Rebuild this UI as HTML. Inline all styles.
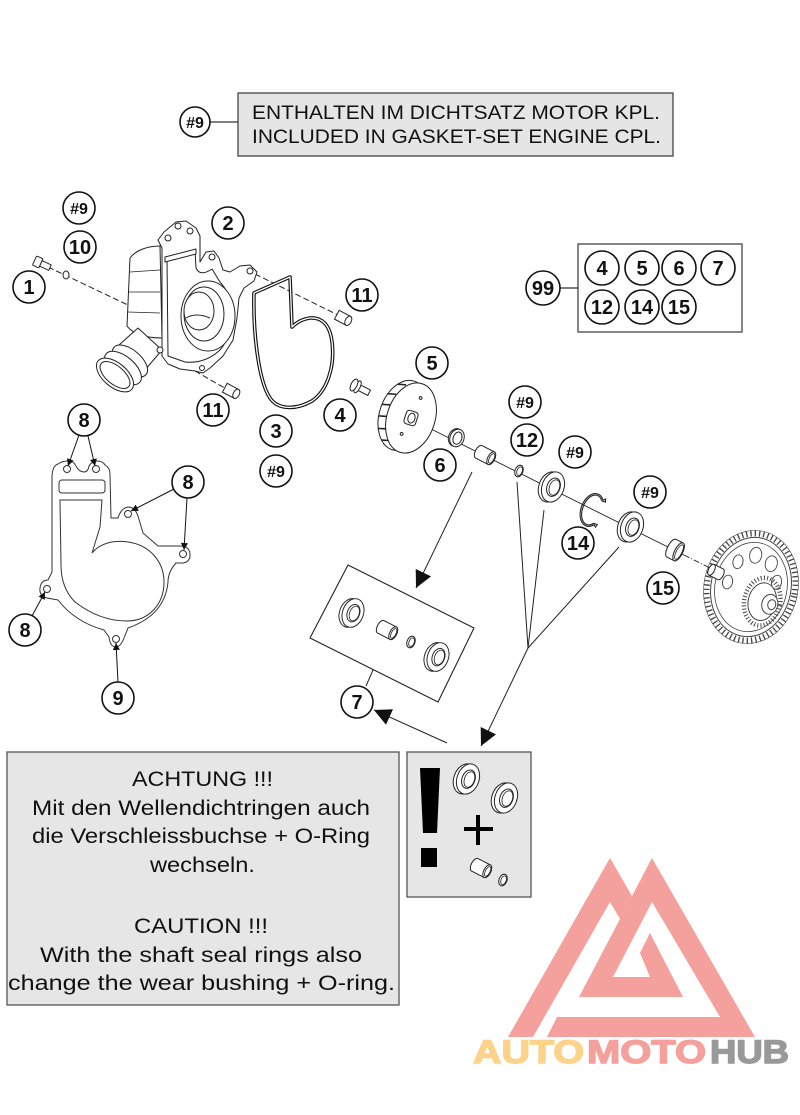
<!DOCTYPE html>
<html><head><meta charset="utf-8"><style>
html,body{margin:0;padding:0;background:#fff;}
svg{display:block}
</style></head><body>
<svg width="800" height="1115" viewBox="0 0 800 1115" xmlns="http://www.w3.org/2000/svg">
<defs>
<marker id="sa" viewBox="0 0 10 10" refX="10" refY="5" markerWidth="8" markerHeight="7" markerUnits="userSpaceOnUse" orient="auto"><path d="M0,0L10,5L0,10z" fill="#111"/></marker>
<marker id="ba" viewBox="0 0 10 10" refX="10" refY="5" markerWidth="24" markerHeight="17" markerUnits="userSpaceOnUse" orient="auto"><path d="M0,0L10,5L0,10z" fill="#111"/></marker>
<g id="seal">
<ellipse cx="-3" cy="1" rx="11" ry="15.5" fill="#fff" stroke="#222" stroke-width="1"/>
<ellipse cx="0" cy="0" rx="11" ry="15.5" fill="#fff" stroke="#222" stroke-width="1"/>
<ellipse cx="0.5" cy="0" rx="6.5" ry="9.5" fill="none" stroke="#222" stroke-width="1"/>
<ellipse cx="1.5" cy="0" rx="5" ry="8" fill="none" stroke="#222" stroke-width="0.8"/>
</g>
<g id="bush">
<path d="M-7,-7 L7,-7 A3.5,7 0 0,1 7,7 L-7,7 A3.5,7 0 0,1 -7,-7 Z" fill="#fff" stroke="#222"/>
<ellipse cx="7" cy="0" rx="3.5" ry="7" fill="#fff" stroke="#222"/>
<ellipse cx="7.5" cy="0" rx="2.3" ry="5.3" fill="none" stroke="#222" stroke-width=".8"/>
</g>
<g id="oring">
<ellipse rx="4" ry="6" fill="#fff" stroke="#222" stroke-width="1"/>
<ellipse cx=".6" rx="2.6" ry="4.5" fill="none" stroke="#222" stroke-width=".8"/>
</g>
</defs>

<!-- Header -->
<line x1="210" y1="122" x2="238" y2="122" stroke="#333" stroke-width="1.2"/>
<rect x="238" y="93" width="435" height="63" fill="#e5e5e5" stroke="#444" stroke-width="1.3"/>
<g font-family="Liberation Sans, sans-serif" font-size="19" fill="#111">
<text x="252" y="119" textLength="408" lengthAdjust="spacingAndGlyphs">ENTHALTEN IM DICHTSATZ MOTOR KPL.</text>
<text x="252" y="143" textLength="409" lengthAdjust="spacingAndGlyphs">INCLUDED IN GASKET-SET ENGINE CPL.</text>
</g>

<!-- 99 box -->
<line x1="560" y1="288" x2="578" y2="288" stroke="#333" stroke-width="1.2"/>
<rect x="578" y="244" width="164" height="88" fill="#fff" stroke="#444" stroke-width="1.3"/>

<!-- dashed lines housing -->
<g stroke="#222" stroke-width="1" fill="none">
<line x1="48" y1="267" x2="130" y2="306" stroke-dasharray="6 3"/>
<line x1="255" y1="274" x2="340" y2="316" stroke-dasharray="6 3"/>
<line x1="195" y1="371" x2="228" y2="390" stroke-dasharray="6 3"/>
</g>

<!-- screw 1 and washer 10 -->
<g transform="translate(40,263) rotate(25)" fill="#fff" stroke="#222" stroke-width="1">
<rect x="-6" y="-5" width="7" height="10" rx="1"/>
<rect x="1" y="-3" width="10" height="6"/>
</g>
<ellipse cx="66" cy="275" rx="3" ry="4" fill="#fff" stroke="#222"/>

<!-- Pump housing -->
<g fill="#fff" stroke="#222" stroke-width="1" stroke-linejoin="round">
<path d="M160,246 C148,246 136,250 130,258 L127,326 C133,334 146,338 162,338 Z"/>
<line x1="130" y1="272" x2="160" y2="270" stroke-width=".7"/>
<line x1="128" y1="292" x2="160" y2="292" stroke-width=".7"/>
<line x1="128" y1="312" x2="160" y2="313" stroke-width=".7"/>
<path d="M138,328 L100,362 L128,390 L162,350 Z"/>
<ellipse cx="130" cy="361" rx="21" ry="11" transform="rotate(40 130 361)"/>
<ellipse cx="123" cy="368" rx="22" ry="11.5" transform="rotate(40 123 368)"/>
<ellipse cx="115" cy="375" rx="22" ry="12" transform="rotate(40 115 375)"/>
<ellipse cx="115" cy="375" rx="18" ry="9" transform="rotate(40 115 375)"/>
<path d="M162,248 L158,240 L164,232 L176,222 L186,221 L196,228 L200,236 L200,262 L206,252 L214,251 L219,258 L223,270 L230,272 L240,266 L250,265 L257,272 L254,281 L244,288 L239,298 L237,318 L233,340 L223,356 L210,368 L203,373 L195,371 L180,369 L168,364 L162,356 Z"/>
<path d="M167,258 L195,250 L196,268 Q200,277 212,269 L220,282 Q229,292 232,306 Q233,335 220,350 Q205,364 185,362 L168,356 Z" fill="none"/>
<path d="M165,257 L196,249 L196,254 L165,262 Z"/>
<ellipse cx="208" cy="316" rx="27" ry="35"/>
<ellipse cx="204" cy="314" rx="20" ry="27"/>
<ellipse cx="199" cy="311" rx="15" ry="19"/>
<path d="M186,318 Q196,312 210,318" fill="none"/>
<circle cx="178" cy="226" r="3"/>
<circle cx="190" cy="231" r="3"/>
<circle cx="168" cy="238" r="3"/>
<circle cx="212" cy="257" r="3"/>
<circle cx="250" cy="271" r="3"/>
<circle cx="202" cy="368" r="2.5"/>
<circle cx="160" cy="350" r="3"/>
</g>

<!-- pins 11 -->
<g transform="translate(343,318) rotate(28)" fill="#fff" stroke="#222">
<rect x="-7" y="-5" width="13" height="10"/>
<ellipse cx="6" cy="0" rx="3" ry="5"/>
</g>
<g transform="translate(231,391) rotate(28)" fill="#fff" stroke="#222">
<rect x="-7" y="-5" width="13" height="10"/>
<ellipse cx="6" cy="0" rx="3" ry="5"/>
</g>

<!-- O-ring 3 -->
<path d="M290,277 L254,293 C253,330 258,380 270,398 C278,410 296,410 312,401 C328,390 335,365 332,342 C330,325 322,317 310,318 C302,319 296,323 292,327 L290,277 Z" fill="none" stroke="#111" stroke-width="3.6" stroke-linejoin="round"/>
<path d="M290,277 L254,293 C253,330 258,380 270,398 C278,410 296,410 312,401 C328,390 335,365 332,342 C330,325 322,317 310,318 C302,319 296,323 292,327 L290,277 Z" fill="none" stroke="#fff" stroke-width="1.3" stroke-linejoin="round"/>

<!-- bolt 4 -->
<g transform="translate(354,385) rotate(27)" fill="#fff" stroke="#222">
<rect x="4" y="-3" width="13" height="6"/>
<ellipse cx="4" cy="0" rx="2.5" ry="6.5"/>
<ellipse cx="0" cy="0" rx="3" ry="6.5"/>
</g>

<!-- main shaft axis -->
<line x1="413" y1="420" x2="684" y2="555" stroke="#222" stroke-width="0.9"/>
<line x1="684" y1="555" x2="714" y2="570" stroke="#222" stroke-width="0.9" stroke-dasharray="6 2 1 2"/>

<!-- impeller 5 -->
<g transform="translate(411,418) rotate(18)" stroke="#222">
<ellipse cx="-8" cy="0" rx="24" ry="36" fill="#fff"/>
<g stroke-width="1.6">
<line x1="-23" y1="-28" x2="-15" y2="-30"/>
<line x1="-29.5" y1="-16" x2="-21.5" y2="-18"/>
<line x1="-32" y1="-4" x2="-24" y2="-6"/>
<line x1="-31.5" y1="8" x2="-23.5" y2="6"/>
<line x1="-28" y1="20" x2="-20" y2="18"/>
<line x1="-21" y1="30" x2="-13" y2="28"/>
</g>
<ellipse cx="0" cy="0" rx="24" ry="36" fill="#fff"/>
<rect x="-6" y="-7" width="12" height="14" rx="3" fill="#fff"/>
<ellipse cx="0.5" cy="0" rx="3.5" ry="5" fill="#fff"/>
<circle cx="3" cy="-22" r="1.4" fill="none"/>
<circle cx="-4" cy="18" r="1.4" fill="none"/>
</g>

<!-- washer 6 -->
<g transform="translate(457,438) rotate(20)" stroke="#222">
<ellipse cx="-1.5" cy="0" rx="7" ry="9" fill="#fff"/>
<ellipse cx="0" cy="0" rx="7" ry="9" fill="#fff"/>
<ellipse cx="0.5" cy="0" rx="4.3" ry="6.3" fill="none"/>
</g>
<use href="#bush" transform="translate(485,455) rotate(27)"/>
<use href="#oring" transform="translate(519,471) rotate(20)"/>
<use href="#seal" transform="translate(553,487) rotate(20)"/>
<!-- circlip 14 -->
<g transform="translate(592,510) rotate(20)" fill="none" stroke="#222" stroke-width="1.1">
<path d="M7.07,-13 A11,17 0 1,0 7.07,13"/>
<path d="M6.1,-11.9 A9.5,15.5 0 1,0 6.1,11.9"/>
<path d="M7.07,-13 L9,-15 L10,-12 L6.1,-11.9"/>
<path d="M7.07,13 L9,15 L10,12 L6.1,11.9"/>
</g>
<use href="#seal" transform="translate(632,527) rotate(20)"/>
<!-- bearing 15 -->
<g transform="translate(675,550) rotate(27)" stroke="#222">
<path d="M-4,-10 L4,-10 A4,10 0 0,1 4,10 L-4,10 A4,10 0 0,1 -4,-10 Z" fill="#fff"/>
<ellipse cx="4" cy="0" rx="4" ry="10" fill="#fff"/>
<ellipse cx="4.5" cy="0" rx="2.8" ry="8" fill="none" stroke-width=".8"/>
</g>

<!-- gear -->
<g transform="translate(751,587) rotate(12)" stroke="#444">
<ellipse rx="44" ry="54" fill="none" stroke-width="6" stroke-dasharray="1.3 3"/>
<ellipse rx="47" ry="57" fill="none" stroke-width=".6"/>
<ellipse rx="40" ry="50" fill="#fff" stroke-width="1"/>
<ellipse rx="36" ry="45" fill="none" stroke-width=".8"/>
<g fill="#fff" stroke-width=".9">
<ellipse cx="-2" cy="-32" rx="6" ry="8"/>
<ellipse cx="15" cy="-27" rx="6" ry="8"/>
<ellipse cx="24" cy="-10" rx="5" ry="7"/>
<ellipse cx="-18" cy="-22" rx="5" ry="7"/>
<ellipse cx="-24" cy="0" rx="5" ry="7"/>
</g>
<ellipse cx="14" cy="12" rx="18" ry="24" fill="none" stroke-width="4.5" stroke-dasharray="1 2.2"/>
<ellipse cx="14" cy="12" rx="14" ry="19" fill="#fff" stroke-width="1"/>
<ellipse cx="22" cy="13" rx="8" ry="10" fill="#fff" stroke-width="1"/>
<ellipse cx="24" cy="13" rx="4" ry="5" fill="#fff" stroke-width="1"/>
</g>
<g transform="translate(716,572) rotate(27)" stroke="#222">
<path d="M-5,-6 L5,-6 A3,6 0 0,1 5,6 L-5,6 A3,6 0 0,1 -5,-6 Z" fill="#fff"/>
<ellipse cx="-5" cy="0" rx="3" ry="6" fill="#fff"/>
</g>

<!-- leaders to kit -->
<g stroke="#222" stroke-width="1" fill="none">
<line x1="472" y1="472" x2="416" y2="588" marker-end="url(#ba)"/>
<line x1="517" y1="482" x2="528" y2="648"/>
<line x1="544" y1="510" x2="528" y2="648"/>
<line x1="619" y1="547" x2="528" y2="648"/>
<line x1="528" y1="648" x2="481" y2="746" marker-end="url(#ba)"/>
<line x1="447" y1="743" x2="374" y2="710" marker-end="url(#ba)"/>
<line x1="373" y1="670" x2="366" y2="686"/>
</g>

<!-- kit box 7 -->
<polygon points="348,565 474,628 438,702 310,638" fill="#fff" stroke="#222" stroke-width="1.1"/>
<use href="#seal" transform="translate(353,613) rotate(20) scale(.95)"/>
<use href="#bush" transform="translate(387,630) rotate(27)"/>
<use href="#oring" transform="translate(411,642) rotate(20)"/>
<use href="#seal" transform="translate(438,657) rotate(20) scale(.95)"/>

<!-- gasket 8 -->
<g fill="none" stroke="#333" stroke-width="1">
<path d="M52,478 Q52,466 58,464 Q62,461 68,461 Q74,461 76,466 Q79,472 84,472 Q88,472 89,466 Q92,461 97,461 Q103,461 105,465 Q110,468 110,474 L111,518 L118,518 Q121,508 128,507 Q135,507 138,516 L143,533 L158,546 L180,546 Q190,546 190,555 Q190,562 183,563 L176,563 Q168,572 168,582 Q165,615 128,628 L124,638 Q120,648 115,647 Q110,646 109,637 L104,630 Q75,622 58,600 L47,598 Q39,596 40,588 Q41,580 48,580 L52,572 Z"/>
<rect x="59" y="480" width="46" height="13" rx="3"/>
<path d="M60,500 L102,500 L100,527 L92,553 C100,543 114,540 128,542 C150,545 164,562 164,582 C164,605 148,621 127,621 C105,621 88,612 75,602 C65,592 61,580 61,565 Z"/>
<circle cx="67" cy="469" r="3.5"/>
<circle cx="96" cy="469" r="3.5"/>
<circle cx="128" cy="514" r="3.5"/>
<circle cx="183" cy="554" r="3.5"/>
<circle cx="47" cy="589" r="3.5"/>
<circle cx="116" cy="639" r="3.5"/>
</g>
<g stroke="#111" stroke-width="1" fill="none">
<line x1="79" y1="435" x2="68" y2="466" marker-end="url(#sa)"/>
<line x1="88" y1="436" x2="95" y2="466" marker-end="url(#sa)"/>
<line x1="174" y1="489" x2="131" y2="511" marker-end="url(#sa)"/>
<line x1="187" y1="498" x2="184" y2="550" marker-end="url(#sa)"/>
<line x1="32" y1="616" x2="45" y2="592" marker-end="url(#sa)"/>
<line x1="118" y1="682" x2="116" y2="643" marker-end="url(#sa)"/>
</g>

<!-- label circles -->
<g fill="#fff" stroke="#111" stroke-width="1.6">
<circle cx="195" cy="122" r="15"/>
<circle cx="79" cy="208" r="16"/>
<circle cx="80" cy="247" r="16"/>
<circle cx="228" cy="223" r="16"/>
<circle cx="29" cy="287" r="16"/>
<circle cx="362" cy="295" r="16"/>
<circle cx="213" cy="410" r="16"/>
<circle cx="340" cy="415" r="16"/>
<circle cx="276" cy="431" r="16"/>
<circle cx="276" cy="471" r="16"/>
<circle cx="432" cy="363" r="16"/>
<circle cx="525" cy="402" r="16"/>
<circle cx="527" cy="440" r="16"/>
<circle cx="440" cy="465" r="16"/>
<circle cx="575" cy="452" r="16"/>
<circle cx="578" cy="543" r="16"/>
<circle cx="650" cy="492" r="16"/>
<circle cx="663" cy="588" r="16"/>
<circle cx="84" cy="420" r="16"/>
<circle cx="188" cy="482" r="16"/>
<circle cx="25" cy="630" r="16"/>
<circle cx="118" cy="698" r="16"/>
<circle cx="357" cy="702" r="16"/>
<circle cx="543" cy="288" r="17"/>
<circle cx="602" cy="268" r="17"/>
<circle cx="642" cy="268" r="17"/>
<circle cx="679" cy="268" r="17"/>
<circle cx="718" cy="268" r="17"/>
<circle cx="602" cy="307" r="17"/>
<circle cx="642" cy="307" r="17"/>
<circle cx="679" cy="307" r="17"/>
</g>
<g font-family="Liberation Sans, sans-serif" font-weight="bold" font-size="20" fill="#111" text-anchor="middle">
<text x="195" y="128" font-size="16">#9</text>
<text x="79" y="214" font-size="16">#9</text>
<text x="80" y="254">10</text>
<text x="228" y="230">2</text>
<text x="29" y="294">1</text>
<text x="362" y="302">11</text>
<text x="213" y="417">11</text>
<text x="340" y="422">4</text>
<text x="276" y="438">3</text>
<text x="276" y="477" font-size="16">#9</text>
<text x="432" y="370">5</text>
<text x="525" y="408" font-size="16">#9</text>
<text x="527" y="447">12</text>
<text x="440" y="472">6</text>
<text x="575" y="458" font-size="16">#9</text>
<text x="578" y="550">14</text>
<text x="650" y="498" font-size="16">#9</text>
<text x="663" y="595">15</text>
<text x="84" y="427">8</text>
<text x="188" y="489">8</text>
<text x="25" y="637">8</text>
<text x="118" y="705">9</text>
<text x="357" y="709">7</text>
<text x="543" y="295">99</text>
<text x="602" y="275">4</text>
<text x="642" y="275">5</text>
<text x="679" y="275">6</text>
<text x="718" y="275">7</text>
<text x="602" y="314">12</text>
<text x="642" y="314">14</text>
<text x="679" y="314">15</text>
</g>

<!-- caution box -->
<rect x="7" y="752" width="392" height="253" fill="#e6e6e6" stroke="#555" stroke-width="1.3"/>
<g font-family="Liberation Sans, sans-serif" font-size="21" fill="#111">
<text x="132" y="786" textLength="141" lengthAdjust="spacingAndGlyphs">ACHTUNG !!!</text>
<text x="32" y="815" textLength="338" lengthAdjust="spacingAndGlyphs">Mit den Wellendichtringen auch</text>
<text x="32" y="843" textLength="338" lengthAdjust="spacingAndGlyphs">die Verschleissbuchse + O-Ring</text>
<text x="150" y="872" textLength="105" lengthAdjust="spacingAndGlyphs">wechseln.</text>
<text x="134" y="933" textLength="134" lengthAdjust="spacingAndGlyphs">CAUTION !!!</text>
<text x="40" y="962" textLength="322" lengthAdjust="spacingAndGlyphs">With the shaft seal rings also</text>
<text x="8" y="990" textLength="387" lengthAdjust="spacingAndGlyphs">change the wear bushing + O-ring.</text>
</g>

<!-- right box -->
<rect x="407" y="752" width="124" height="145" fill="#e6e6e6" stroke="#555" stroke-width="1.3"/>
<polygon points="420,768 440,768 437,833 423,833" fill="#000"/>
<rect x="421" y="848" width="16" height="19" fill="#000"/>
<rect x="464" y="827" width="29" height="4" fill="#000"/>
<rect x="476" y="815" width="4" height="30" fill="#000"/>
<use href="#seal" transform="translate(468,779) rotate(20)"/>
<use href="#seal" transform="translate(506,798) rotate(20)"/>
<use href="#bush" transform="translate(481,868) rotate(27)"/>
<use href="#oring" transform="translate(503,880) rotate(20)"/>

<!-- logo -->
<g fill="#f4a19d">
<polygon points="508,1037 610,858 632,896 620,919 610,902 533,1037"/>
<polygon points="632,896 652,858 755,1037 547,1037 557,1017 720,1017 652,902 613,977 650,977 640,953 650,933 683,997 579,997"/>
</g>
<g font-family="Liberation Sans, sans-serif" font-weight="bold" font-size="32" stroke-width="1.4">
<text x="473" y="1063" fill="#fdd28a" stroke="#fdd28a" textLength="111" lengthAdjust="spacingAndGlyphs">AUTO</text>
<text x="587" y="1063" fill="#f4a19d" stroke="#f4a19d" textLength="119" lengthAdjust="spacingAndGlyphs">MOTO</text>
<text x="710" y="1063" fill="#999999" stroke="#999999" textLength="79" lengthAdjust="spacingAndGlyphs">HUB</text>
</g>
</svg>
</body></html>
